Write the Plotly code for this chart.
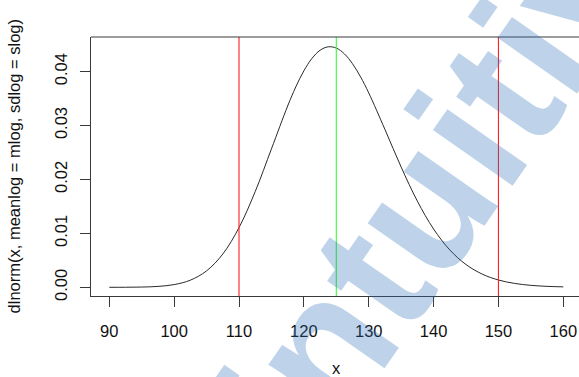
import plotly.graph_objects as go

# Log-normal density of x (meanlog = mlog, sdlog = slog)
x_vals = [90, 92.5, 95, 97.5, 100, 102.5, 105, 107.5, 110, 112.5, 115, 117.5,
          118.75, 120, 121.25, 122.5, 123.75, 125, 126.25, 127.5, 128.75, 130,
          132.5, 135, 137.5, 140, 142.5, 145, 147.5, 150, 152.5, 155, 157.5, 160]
density = [0.000002, 0.000011, 0.000046, 0.000165, 0.000503, 0.001326,
           0.003048, 0.006166, 0.011066, 0.017757, 0.025662, 0.033610,
           0.037141, 0.040136, 0.042442, 0.043949, 0.044589, 0.044354,
           0.043282, 0.041453, 0.038996, 0.036042, 0.029270, 0.022289,
           0.015975, 0.010810, 0.006929, 0.004220, 0.002447, 0.001356,
           0.000719, 0.000366, 0.000179, 0.000085]

# Reference lines: interval bounds (red) and mean (green)
bounds = [110, 150]
mean_x = 125

x_ticks = [90, 100, 110, 120, 130, 140, 150, 160]
y_ticks = [0.00, 0.01, 0.02, 0.03, 0.04]
y_tick_labels = ["0.00", "0.01", "0.02", "0.03", "0.04"]

FONT = "Liberation Sans, Arial, Helvetica, sans-serif"
AXIS_COL = "#3a3a3a"

fig = go.Figure()
fig.add_trace(go.Scatter(
    x=x_vals, y=density, mode="lines",
    line=dict(color="#2a2a2a", width=1.0, shape="spline", smoothing=1.0),
    hoverinfo="skip", showlegend=False,
))

shapes = []
for b in bounds:
    shapes.append(dict(type="line", xref="x", yref="paper", x0=b, x1=b, y0=0, y1=1,
                       line=dict(color="#ff2020", width=1.1)))
shapes.append(dict(type="line", xref="x", yref="paper", x0=mean_x, x1=mean_x, y0=0, y1=1,
                   line=dict(color="#30ff30", width=1.1)))
# top edge of the plot box
shapes.append(dict(type="line", xref="paper", yref="paper", x0=0, x1=1.02, y0=1, y1=1,
                   line=dict(color=AXIS_COL, width=1.2)))

annotations = [
    dict(text="x", xref="x", yref="paper", x=mean_x, y=-0.278, showarrow=False,
         font=dict(family=FONT, size=16.5, color="#111"), xanchor="center", yanchor="middle"),
    dict(text="dlnorm(x, meanlog = mlog, sdlog = slog)", xref="paper", yref="paper",
         x=-0.158, y=0.5, textangle=-90, showarrow=False,
         font=dict(family=FONT, size=16.5, color="#111"), xanchor="center", yanchor="middle"),
    # watermark
    dict(text="<b>intuitiv</b>", xref="paper", yref="paper", x=0.699, y=0.413,
         textangle=-55, showarrow=False,
         font=dict(family=FONT, size=184, color="rgba(40,110,185,0.3)"),
         xanchor="center", yanchor="middle"),
]

fig.update_layout(
    width=579, height=377,
    margin=dict(l=91, r=0, t=37, b=81),
    paper_bgcolor="white", plot_bgcolor="white",
    shapes=shapes, annotations=annotations,
    xaxis=dict(range=[87.18, 162.42], tickvals=x_ticks, ticks="outside", ticklen=10,
               tickcolor=AXIS_COL, showline=True, linecolor=AXIS_COL, linewidth=1.2,
               showgrid=False, zeroline=False, ticklabelstandoff=10,
               tickfont=dict(family=FONT, size=16.5, color="#111")),
    yaxis=dict(range=[-0.001611, 0.046407], tickvals=y_ticks, ticktext=y_tick_labels,
               tickangle=-90, ticks="outside", ticklen=10, tickcolor=AXIS_COL,
               showline=True, linecolor=AXIS_COL, linewidth=1.2, showgrid=False,
               zeroline=False, ticklabelstandoff=6,
               tickfont=dict(family=FONT, size=16.5, color="#111")),
)

fig.write_html("out.html")
